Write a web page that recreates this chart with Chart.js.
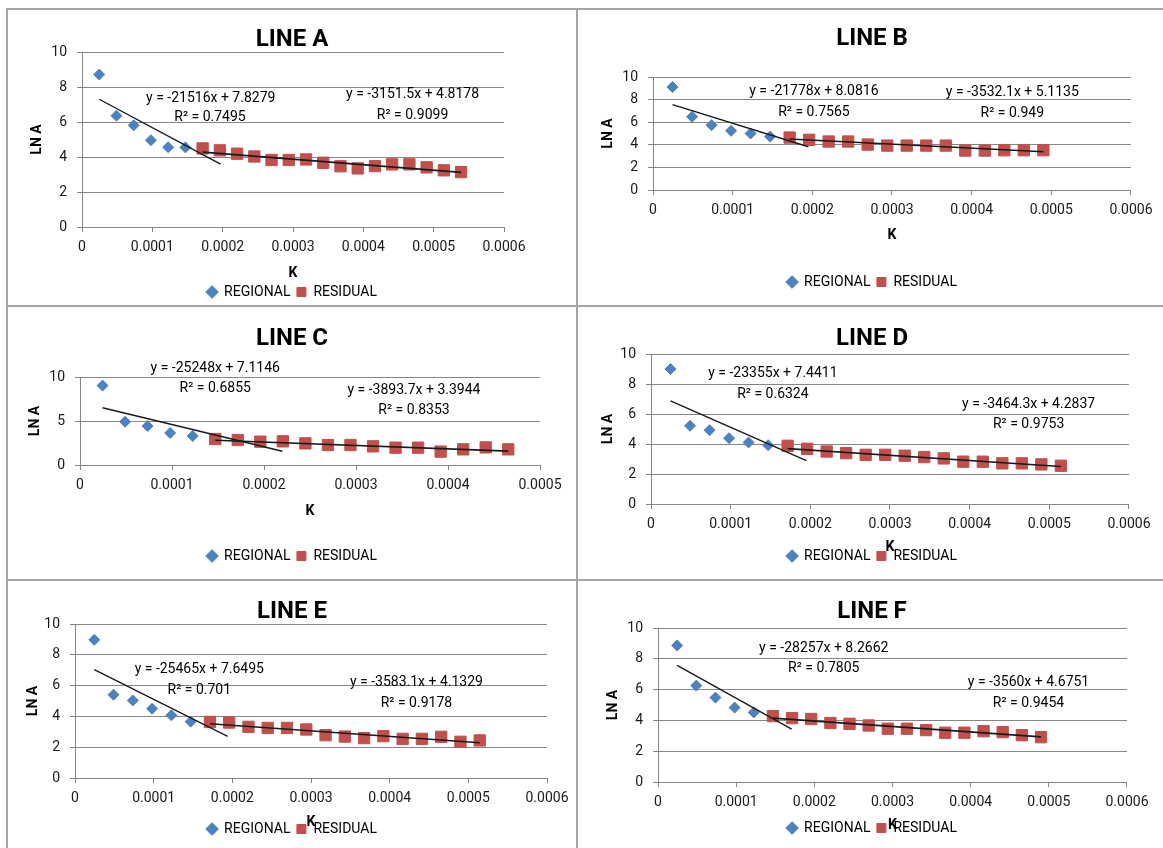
<!DOCTYPE html>
<html>
<head>
<meta charset="utf-8">
<title>LN A against K</title>
<script src="https://cdn.jsdelivr.net/npm/chart.js@4.4.1/dist/chart.umd.min.js"></script>
<style>
  html, body { margin: 0; padding: 0; background: #fff; overflow: hidden; }
  body { width: 1163px; height: 848px; position: relative; }
  .rule { position: absolute; background: #a6a6a6; }
  canvas { position: absolute; }
</style>
</head>
<body>
<div class="rule" style="left:6px;top:8px;width:1157px;height:2px"></div>
<div class="rule" style="left:6px;top:8px;width:2px;height:840px"></div>
<div class="rule" style="left:576px;top:8px;width:2px;height:840px"></div>
<div class="rule" style="left:6px;top:305px;width:1157px;height:2px"></div>
<div class="rule" style="left:6px;top:579px;width:1157px;height:2px"></div>

<canvas id="lineA"></canvas>
<canvas id="lineB"></canvas>
<canvas id="lineC"></canvas>
<canvas id="lineD"></canvas>
<canvas id="lineE"></canvas>
<canvas id="lineF"></canvas>

<script>
// K of each station, same spacing on every line
const kValues = [0.0000245, 0.000049, 0.0000735, 0.000098, 0.0001225, 0.000147, 0.0001715, 0.000196,
    0.0002205, 0.000245, 0.0002695, 0.000294, 0.0003185, 0.000343, 0.0003675, 0.000392, 0.0004165,
    0.000441, 0.0004655, 0.00049, 0.0005145, 0.000539];

const xTickLabels = ['0', '0.0001', '0.0002', '0.0003', '0.0004', '0.0005', '0.0006'];
const yTickLabels2 = ['0', '2', '4', '6', '8', '10'];
const yTickLabels5 = ['0', '5', '10'];

// LN A readings, regional first then residual (residual continues the K list)
const lineA_regional = [8.71, 6.36, 5.81, 4.96, 4.56, 4.55];
const lineA_residual = [4.49, 4.38, 4.19, 4.03, 3.83, 3.83, 3.86, 3.67, 3.47, 3.35, 3.48, 3.58, 3.58, 3.41, 3.24, 3.14];
const lineB_regional = [9.11, 6.48, 5.74, 5.24, 5.0, 4.73];
const lineB_residual = [4.64, 4.44, 4.29, 4.29, 4.02, 3.93, 3.93, 3.93, 3.93, 3.49, 3.49, 3.52, 3.52, 3.52];
const lineC_regional = [9.02, 4.92, 4.43, 3.64, 3.30];
const lineC_residual = [2.95, 2.84, 2.65, 2.69, 2.46, 2.27, 2.27, 2.12, 1.97, 1.97, 1.52, 1.78, 2.0, 1.78];
const lineD_regional = [9.0, 5.21, 4.92, 4.39, 4.10, 3.92];
const lineD_residual = [3.88, 3.68, 3.50, 3.39, 3.28, 3.28, 3.22, 3.13, 3.04, 2.82, 2.82, 2.71, 2.71, 2.64, 2.55];
const lineE_regional = [8.97, 5.41, 5.04, 4.50, 4.07, 3.66];
const lineE_residual = [3.64, 3.60, 3.32, 3.25, 3.25, 3.15, 2.78, 2.69, 2.59, 2.72, 2.54, 2.54, 2.67, 2.35, 2.44];
const lineF_regional = [8.87, 6.26, 5.48, 4.83, 4.52];
const lineF_residual = [4.28, 4.15, 4.09, 3.83, 3.78, 3.67, 3.46, 3.46, 3.37, 3.20, 3.20, 3.30, 3.24, 3.04, 2.91];

// trendline ends [k start, k end] and [ln start, ln end]
const lineA_regTrendK = [0.0000245, 0.000197];   const lineA_regTrendLn = [7.30, 3.59];
const lineA_resTrendK = [0.0001715, 0.000539];   const lineA_resTrendLn = [4.28, 3.12];
const lineB_regTrendK = [0.0000245, 0.000195];   const lineB_regTrendLn = [7.55, 3.83];
const lineB_resTrendK = [0.0001715, 0.00049];    const lineB_resTrendLn = [4.51, 3.38];
const lineC_regTrendK = [0.0000245, 0.00022];    const lineC_regTrendLn = [6.50, 1.56];
const lineC_resTrendK = [0.000147, 0.0004655];   const lineC_resTrendLn = [2.82, 1.58];
const lineD_regTrendK = [0.0000245, 0.000195];   const lineD_regTrendLn = [6.87, 2.89];
const lineD_resTrendK = [0.0001715, 0.0005145];  const lineD_resTrendLn = [3.69, 2.50];
const lineE_regTrendK = [0.0000245, 0.000194];   const lineE_regTrendLn = [7.03, 2.71];
const lineE_resTrendK = [0.0001715, 0.0005145];  const lineE_resTrendLn = [3.52, 2.29];
const lineF_regTrendK = [0.0000245, 0.000171];   const lineF_regTrendLn = [7.57, 3.43];
const lineF_resTrendK = [0.000147, 0.00049];     const lineF_resTrendLn = [4.15, 2.93];

const lineA_equations = ['y = -21516x + 7.8279', 'R² = 0.7495', 'y = -3151.5x + 4.8178', 'R² = 0.9099'];
const lineB_equations = ['y = -21778x + 8.0816', 'R² = 0.7565', 'y = -3532.1x + 5.1135', 'R² = 0.949'];
const lineC_equations = ['y = -25248x + 7.1146', 'R² = 0.6855', 'y = -3893.7x + 3.3944', 'R² = 0.8353'];
const lineD_equations = ['y = -23355x + 7.4411', 'R² = 0.6324', 'y = -3464.3x + 4.2837', 'R² = 0.9753'];
const lineE_equations = ['y = -25465x + 7.6495', 'R² = 0.701', 'y = -3583.1x + 4.1329', 'R² = 0.9178'];
const lineF_equations = ['y = -28257x + 8.2662', 'R² = 0.7805', 'y = -3560x + 4.6751', 'R² = 0.9454'];

const FONT = 'Roboto, "Liberation Sans", Arial, sans-serif';
const GRID = '#868686';
const BLUE = '#4F81BD';
const RED = '#C0504D';

// where each panel sits on the page (pixels) and where its labels sit (data units)
const panels = [
    { id: 'lineA', title: 'LINE A', regional: lineA_regional, residual: lineA_residual,
      regTrend: [lineA_regTrendK, lineA_regTrendLn], resTrend: [lineA_resTrendK, lineA_resTrendLn],
      equations: lineA_equations, xMax: 0.0006, yTicks: yTickLabels2,
      box: { left: 8, top: 10, width: 569 }, area: { left: 82, top: 52, right: 504, bottom: 227 },
      titleX: 292, titleY: 40, yTitleX: 37, kY: 273, legendY: 292,
      anchors: [[0.000183, 7.33], [0.000182, 6.27], [0.00047, 7.56], [0.00047, 6.4]] },
    { id: 'lineB', title: 'LINE B', regional: lineB_regional, residual: lineB_residual,
      regTrend: [lineB_regTrendK, lineB_regTrendLn], resTrend: [lineB_resTrendK, lineB_resTrendLn],
      equations: lineB_equations, xMax: 0.0006, yTicks: yTickLabels2,
      box: { left: 580, top: 10, width: 583 }, area: { left: 653, top: 77, right: 1131, bottom: 190 },
      titleX: 872, titleY: 39, yTitleX: 608, kY: 235, legendY: 282,
      anchors: [[0.000202, 8.73], [0.000202, 6.86], [0.000451, 8.64], [0.000451, 6.8]] },
    { id: 'lineC', title: 'LINE C', regional: lineC_regional, residual: lineC_residual,
      regTrend: [lineC_regTrendK, lineC_regTrendLn], resTrend: [lineC_resTrendK, lineC_resTrendLn],
      equations: lineC_equations, xMax: 0.0005, yTicks: yTickLabels5,
      box: { left: 8, top: 308, width: 569 }, area: { left: 80, top: 377, right: 540, bottom: 465 },
      titleX: 292, titleY: 339, yTitleX: 35, kY: 511, legendY: 556,
      anchors: [[0.000147, 10.98], [0.000147, 8.64], [0.000363, 8.41], [0.000363, 6.14]] },
    { id: 'lineD', title: 'LINE D', regional: lineD_regional, residual: lineD_residual,
      regTrend: [lineD_regTrendK, lineD_regTrendLn], resTrend: [lineD_resTrendK, lineD_resTrendLn],
      equations: lineD_equations, xMax: 0.0006, yTicks: yTickLabels2,
      box: { left: 580, top: 308, width: 583 }, area: { left: 651, top: 354, right: 1129, bottom: 504 },
      titleX: 872, titleY: 339, yTitleX: 608, kY: 547, legendY: 556,
      anchors: [[0.000153, 8.67], [0.000153, 7.27], [0.000474, 6.65], [0.000474, 5.28]] },
    { id: 'lineE', title: 'LINE E', regional: lineE_regional, residual: lineE_residual,
      regTrend: [lineE_regTrendK, lineE_regTrendLn], resTrend: [lineE_resTrendK, lineE_resTrendLn],
      equations: lineE_equations, xMax: 0.0006, yTicks: yTickLabels2,
      box: { left: 8, top: 582, width: 569 }, area: { left: 75, top: 624, right: 547, bottom: 778 },
      titleX: 292, titleY: 612, yTitleX: 33, kY: 822, legendY: 829,
      anchors: [[0.000158, 7.03], [0.000158, 5.69], [0.000434, 6.23], [0.000434, 4.87]] },
    { id: 'lineF', title: 'LINE F', regional: lineF_regional, residual: lineF_residual,
      regTrend: [lineF_regTrendK, lineF_regTrendLn], resTrend: [lineF_resTrendK, lineF_resTrendLn],
      equations: lineF_equations, xMax: 0.0006, yTicks: yTickLabels2,
      box: { left: 580, top: 582, width: 583 }, area: { left: 658, top: 628, right: 1127, bottom: 782 },
      titleX: 872, titleY: 612, yTitleX: 613, kY: 825, legendY: 828,
      anchors: [[0.000212, 8.70], [0.000212, 7.39], [0.000474, 6.46], [0.000474, 5.11]] },
];

// trendline equations written next to the lines
const equationLabels = {
    id: 'equationLabels',
    afterDatasetsDraw(chart, args, opts) {
        const { ctx, scales: { x, y } } = chart;
        ctx.save();
        ctx.font = '14px ' + FONT;
        ctx.fillStyle = '#000';
        ctx.textAlign = 'center';
        ctx.textBaseline = 'middle';
        opts.texts.forEach((t, i) => {
            const [kx, ly] = opts.anchors[i];
            ctx.fillText(t, x.getPixelForValue(kx), y.getPixelForValue(ly));
        });
        ctx.restore();
    }
};

function pairUp(ks, lns) {
    return lns.map((v, i) => ({ x: ks[i], y: v }));
}

function drawPanel(p) {
    const canvas = document.getElementById(p.id);

    const yAxisW = p.area.left - (p.yTitleX - 8.4);
    const padL = p.area.left - p.box.left - yAxisW;
    const padR = p.box.width + padL - 2 * (p.titleX - p.box.left);
    const rightW = p.box.left + p.box.width - padR - p.area.right;
    const padT = p.titleY - 12 - p.box.top;
    const titleGap = p.area.top - p.titleY - 12;
    const xAxisH = p.legendY - p.area.bottom - 13;
    const kPad = p.area.bottom + xAxisH - 8.4 - p.kY;
    const height = p.area.bottom - p.box.top + xAxisH + 32;

    canvas.width = p.box.width;
    canvas.height = height;
    canvas.style.left = p.box.left + 'px';
    canvas.style.top = p.box.top + 'px';

    const nReg = p.regional.length;
    const resK = kValues.slice(nReg, nReg + p.residual.length);

    new Chart(canvas, {
        type: 'scatter',
        data: {
            datasets: [
                {
                    label: 'REGIONAL',
                    data: pairUp(kValues, p.regional),
                    pointStyle: 'rectRot',
                    pointRadius: 5.5,
                    backgroundColor: BLUE,
                    borderColor: BLUE,
                    borderWidth: 1,
                    order: 1
                },
                {
                    label: 'RESIDUAL',
                    data: pairUp(resK, p.residual),
                    pointStyle: 'rect',
                    pointRadius: 8,
                    backgroundColor: RED,
                    borderColor: RED,
                    borderWidth: 1,
                    order: 1
                },
                {
                    label: 'regional trend',
                    data: pairUp(p.regTrend[0], p.regTrend[1]),
                    showLine: true,
                    pointRadius: 0,
                    borderColor: '#1a1a1a',
                    borderWidth: 1.4,
                    order: 0
                },
                {
                    label: 'residual trend',
                    data: pairUp(p.resTrend[0], p.resTrend[1]),
                    showLine: true,
                    pointRadius: 0,
                    borderColor: '#1a1a1a',
                    borderWidth: 1.6,
                    order: 0
                }
            ]
        },
        options: {
            responsive: false,
            animation: false,
            events: [],
            layout: {
                autoPadding: false,
                padding: { left: padL, right: padR, top: padT, bottom: 2 }
            },
            scales: {
                x: {
                    type: 'linear',
                    min: 0,
                    max: p.xMax,
                    afterFit(s) { s.height = xAxisH; s.paddingLeft = 0; s.paddingRight = 0; },
                    ticks: {
                        stepSize: 0.0001,
                        padding: 7,
                        color: '#1a1a1a',
                        font: { family: FONT, size: 14 },
                        maxRotation: 0,
                        callback: (v, i) => xTickLabels[i]
                    },
                    grid: { drawOnChartArea: false, drawTicks: true, tickLength: 5, color: GRID },
                    border: { display: true, color: GRID },
                    title: {
                        display: true, text: 'K', color: '#000',
                        font: { family: FONT, size: 14, weight: 'bold' },
                        padding: { top: 0, bottom: kPad }
                    }
                },
                y: {
                    min: 0,
                    max: 10,
                    afterFit(s) { s.width = yAxisW; },
                    ticks: {
                        stepSize: p.yTicks === yTickLabels5 ? 5 : 2,
                        padding: 10,
                        color: '#1a1a1a',
                        font: { family: FONT, size: 14 },
                        callback: (v, i) => p.yTicks[i]
                    },
                    grid: { color: GRID, tickLength: 5 },
                    border: { display: true, color: GRID },
                    title: {
                        display: true, text: 'LN A', color: '#000',
                        font: { family: FONT, size: 14, weight: 'bold' },
                        padding: 0
                    }
                },
                spacer: {
                    type: 'linear',
                    position: 'right',
                    afterFit(s) { s.width = rightW; },
                    grid: { display: false },
                    border: { display: false },
                    ticks: { display: false }
                }
            },
            plugins: {
                title: {
                    display: true,
                    text: p.title,
                    color: '#000',
                    font: { family: FONT, size: 24, weight: 'bold', lineHeight: 1 },
                    padding: { top: 0, bottom: titleGap }
                },
                legend: {
                    position: 'bottom',
                    labels: {
                        usePointStyle: true,
                        boxWidth: 10,
                        boxHeight: 9,
                        padding: 6,
                        color: '#000',
                        font: { family: FONT, size: 14 },
                        filter: item => item.datasetIndex < 2
                    }
                },
                tooltip: { enabled: false },
                equationLabels: { texts: p.equations, anchors: p.anchors }
            }
        },
        plugins: [equationLabels]
    });
}

panels.forEach(drawPanel);
</script>
</body>
</html>
